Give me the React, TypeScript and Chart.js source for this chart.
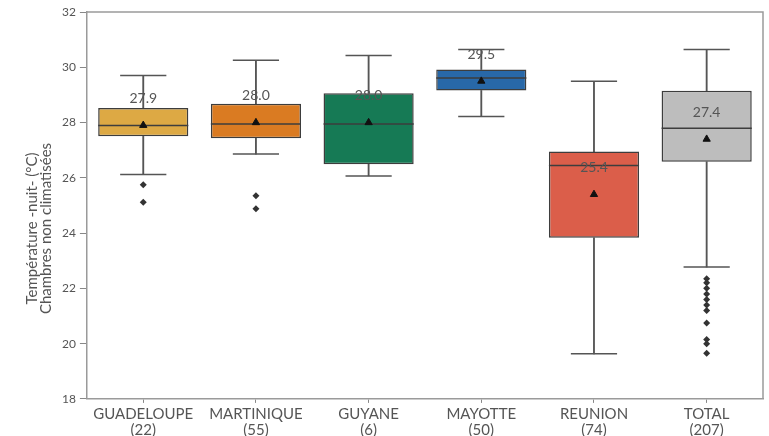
import React, { useEffect, useRef } from 'react';
import { Chart, registerables } from 'chart.js';

Chart.register(...registerables);

// Night temperature in non air-conditioned bedrooms, by territory
const LABELS = ['GUADELOUPE', 'MARTINIQUE', 'GUYANE', 'MAYOTTE', 'REUNION', 'TOTAL'];
const COUNTS = [22, 55, 6, 50, 74, 207];

const WHISKER_LOW = [26.12, 26.86, 26.07, 28.22, 19.63, 22.77];
const Q1 = [27.5, 27.43, 26.49, 29.16, 23.83, 26.58];
const MEDIAN = [27.89, 27.95, 27.95, 29.61, 26.45, 27.79];
const Q3 = [28.53, 28.68, 29.06, 29.92, 26.95, 29.15];
const WHISKER_HIGH = [29.7, 30.25, 30.43, 30.64, 29.49, 30.64];
const MEAN = [27.9, 28.0, 28.0, 29.5, 25.4, 27.4];

const OUTLIERS = [
  [25.75, 25.12],
  [25.35, 24.88],
  [],
  [],
  [],
  [22.35, 22.2, 22.0, 21.8, 21.6, 21.4, 21.2, 20.75, 20.15, 20.0, 19.65],
];

const BOX_COLORS = ['#DDA944', '#DA7B22', '#167A55', '#2868A8', '#DB5E4A', '#BDBDBD'];

const Y_MIN = 18;
const Y_MAX = 32;
const Y_STEP = 2;

const FONT = 'Lato, "Open Sans", sans-serif';
const TEXT_COLOR = '#555';
const LINE_COLOR = '#3d3d3d';
const WHISKER_COLOR = '#555';

export default function App() {
  const canvasRef = useRef<HTMLCanvasElement | null>(null);

  useEffect(() => {
    const canvas = canvasRef.current;
    if (!canvas) return;

    // fraction of one category slot, in pixels
    const slot = (ctx: any, f: number) => {
      const x = ctx.chart.scales.x;
      return x ? (x.width / LABELS.length) * f : 10;
    };

    const frame = {
      id: 'frame',
      afterDraw(chart: any) {
        const { ctx, chartArea: a } = chart;
        ctx.save();
        ctx.strokeStyle = '#9a9a9a';
        ctx.lineWidth = 1.5;
        ctx.beginPath();
        ctx.moveTo(a.left, a.top);
        ctx.lineTo(a.right, a.top);
        ctx.lineTo(a.right, a.bottom);
        ctx.stroke();
        ctx.restore();
      },
    };

    const meanLabels = {
      id: 'meanLabels',
      afterDatasetsDraw(chart: any) {
        const idx = chart.data.datasets.findIndex((d: any) => d.label === 'mean');
        const meta = chart.getDatasetMeta(idx);
        const { ctx } = chart;
        ctx.save();
        ctx.font = `14px ${FONT}`;
        ctx.fillStyle = TEXT_COLOR;
        ctx.textAlign = 'center';
        ctx.textBaseline = 'middle';
        meta.data.forEach((p: any, i: number) => {
          ctx.fillText(MEAN[i].toFixed(1), p.x, p.y - 27);
        });
        ctx.restore();
      },
    };

    const outlierPoints = OUTLIERS.flatMap((vals, i) => vals.map((y) => ({ x: LABELS[i], y })));

    const chart = new Chart(canvas, {
      type: 'bar',
      data: {
        labels: LABELS,
        datasets: [
          {
            type: 'line',
            label: 'mean',
            data: MEAN,
            showLine: false,
            pointStyle: 'triangle',
            pointRadius: 4.2,
            pointBackgroundColor: '#111',
            pointBorderColor: '#111',
            pointBorderWidth: 1,
            order: 0,
          },
          {
            type: 'line',
            label: 'outliers',
            data: outlierPoints as any,
            showLine: false,
            pointStyle: 'rectRot',
            pointRadius: 3.5,
            pointBackgroundColor: '#333',
            pointBorderColor: '#333',
            pointBorderWidth: 0,
            order: 1,
          },
          {
            type: 'line',
            label: 'median',
            data: MEDIAN,
            showLine: false,
            pointStyle: 'line',
            pointRadius: (ctx: any) => slot(ctx, 0.4),
            pointBorderColor: LINE_COLOR,
            pointBorderWidth: 1.5,
            order: 2,
          },
          {
            type: 'line',
            label: 'cap-high',
            data: WHISKER_HIGH,
            showLine: false,
            pointStyle: 'line',
            pointRadius: (ctx: any) => slot(ctx, 0.205),
            pointBorderColor: WHISKER_COLOR,
            pointBorderWidth: 1.5,
            order: 3,
          },
          {
            type: 'line',
            label: 'cap-low',
            data: WHISKER_LOW,
            showLine: false,
            pointStyle: 'line',
            pointRadius: (ctx: any) => slot(ctx, 0.205),
            pointBorderColor: WHISKER_COLOR,
            pointBorderWidth: 1.5,
            order: 3,
          },
          {
            type: 'bar',
            label: 'box',
            data: Q1.map((q, i) => [q, Q3[i]]) as any,
            backgroundColor: BOX_COLORS,
            borderColor: LINE_COLOR,
            borderWidth: 1.5,
            borderSkipped: false,
            barPercentage: 0.8,
            categoryPercentage: 1,
            grouped: false,
            order: 4,
          },
          {
            type: 'bar',
            label: 'whisker-high',
            data: Q3.map((q, i) => [q, WHISKER_HIGH[i]]) as any,
            backgroundColor: WHISKER_COLOR,
            barThickness: 1.2,
            grouped: false,
            order: 5,
          },
          {
            type: 'bar',
            label: 'whisker-low',
            data: Q1.map((q, i) => [WHISKER_LOW[i], q]) as any,
            backgroundColor: WHISKER_COLOR,
            barThickness: 1.2,
            grouped: false,
            order: 5,
          },
        ],
      },
      options: {
        responsive: false,
        animation: false,
        events: [],
        layout: { padding: { left: 16, right: 6, top: 12, bottom: -5 } },
        plugins: {
          legend: { display: false },
          tooltip: { enabled: false },
        },
        scales: {
          x: {
            type: 'category',
            offset: true,
            grid: {
              display: true,
              offset: false,
              drawOnChartArea: false,
              drawTicks: true,
              tickLength: 4,
              color: '#888',
            },
            border: { display: true, color: '#9a9a9a', width: 1.5 },
            ticks: {
              color: TEXT_COLOR,
              font: { family: FONT, size: 15, lineHeight: 1.07 },
              padding: 3,
              maxRotation: 0,
              autoSkip: false,
              callback: (_v: any, i: number) => [LABELS[i], `(${COUNTS[i]})`],
            },
          },
          y: {
            min: Y_MIN,
            max: Y_MAX,
            grid: {
              display: true,
              drawOnChartArea: false,
              drawTicks: true,
              tickLength: 7,
              color: '#888',
            },
            border: { display: true, color: '#9a9a9a', width: 1.5 },
            ticks: {
              stepSize: Y_STEP,
              color: TEXT_COLOR,
              font: { family: FONT, size: 12 },
              padding: 4,
            },
            title: {
              display: true,
              text: [
                'Température -nuit- (°C)' + ' '.repeat(12),
                'Chambres non climatisées' + ' '.repeat(12),
              ],
              color: TEXT_COLOR,
              font: { family: FONT, size: 15, lineHeight: 0.933 },
              padding: { top: 9, bottom: 5 },
            },
          },
        },
      },
      plugins: [frame, meanLabels],
    });

    return () => chart.destroy();
  }, []);

  return (
    <div style={{ position: 'absolute', left: 0, top: 0, width: 769, height: 436, background: '#fff' }}>
      <canvas ref={canvasRef} width={769} height={436} />
    </div>
  );
}
